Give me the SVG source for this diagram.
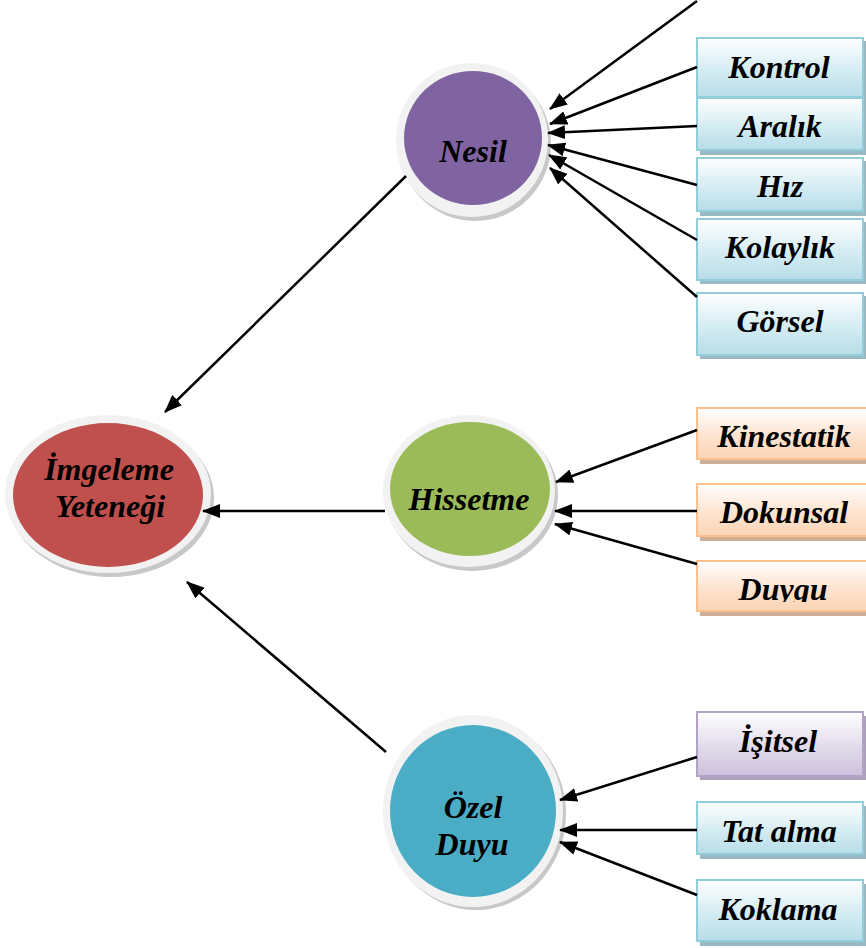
<svg xmlns="http://www.w3.org/2000/svg" width="866" height="948" viewBox="0 0 866 948">
<defs>
<linearGradient id="gBlue" x1="0" y1="0" x2="0" y2="1"><stop offset="0" stop-color="#ffffff"/><stop offset="0.55" stop-color="#d4ecf3"/><stop offset="1" stop-color="#b7dde8"/></linearGradient>
<linearGradient id="gOrange" x1="0" y1="0" x2="0" y2="1"><stop offset="0" stop-color="#ffffff"/><stop offset="0.55" stop-color="#fde3cf"/><stop offset="1" stop-color="#fbd4b4"/></linearGradient>
<linearGradient id="gPurple" x1="0" y1="0" x2="0" y2="1"><stop offset="0" stop-color="#ffffff"/><stop offset="0.55" stop-color="#e2dbeb"/><stop offset="1" stop-color="#ccc0da"/></linearGradient>
<marker id="arr" markerUnits="userSpaceOnUse" markerWidth="18" markerHeight="14" refX="17" refY="7" orient="auto"><path d="M0,0 L18,7 L0,14 z" fill="#000"/></marker>
<clipPath id="clipDuygu"><rect x="690" y="550" width="176" height="52"/></clipPath>
</defs>
<style>
.t{font-family:"Liberation Serif","Times New Roman",serif;font-weight:bold;font-style:italic;font-size:32px;fill:#000;text-anchor:middle}
.ring{fill:#f2f2f2}
.rshadow{fill:#9a9a9a;opacity:0.55}
.bshadow{opacity:0.9}
.conn line{stroke:#000;stroke-width:2.5;marker-end:url(#arr)}
.blue{fill:url(#gBlue);stroke:#92cddc;stroke-width:2}
.orange{fill:url(#gOrange);stroke:#fac090;stroke-width:2}
.purple{fill:url(#gPurple);stroke:#b3a2c7;stroke-width:2}
</style>

<g id="imgeleme">
<ellipse class="rshadow" cx="111" cy="498" rx="103" ry="79"/>
<ellipse class="ring" cx="108" cy="494" rx="103" ry="79"/>
<ellipse cx="108" cy="495" rx="95" ry="72" fill="#c0504d"/>
<text class="t" x="109" y="480">İmgeleme</text>
<text class="t" x="110" y="517">Yeteneği</text>
</g>

<g id="nesil">
<ellipse class="rshadow" cx="475" cy="144" rx="76" ry="77"/>
<ellipse class="ring" cx="472" cy="140" rx="76" ry="77"/>
<ellipse cx="473" cy="138" rx="69" ry="67" fill="#8064a2"/>
<text class="t" x="473" y="162">Nesil</text>
</g>

<g id="hissetme">
<ellipse class="rshadow" cx="472" cy="495" rx="86" ry="76"/>
<ellipse class="ring" cx="469" cy="491" rx="86" ry="76"/>
<ellipse cx="470" cy="489" rx="80" ry="67" fill="#9bbb59"/>
<text class="t" x="469" y="510">Hissetme</text>
</g>

<g id="ozel">
<ellipse class="rshadow" cx="476" cy="814" rx="90" ry="96"/>
<ellipse class="ring" cx="473" cy="811" rx="90" ry="96"/>
<ellipse cx="473" cy="811" rx="83" ry="86" fill="#4bacc6"/>
<text class="t" x="473" y="818">Özel</text>
<text class="t" x="472" y="855">Duyu</text>
</g>

<g id="kontrol">
<rect x="700" y="41" width="166" height="60" fill="#8fb3bd" class="bshadow"/>
<rect class="blue" x="697" y="38" width="166" height="59"/>
<text class="t" x="779" y="78">Kontrol</text>
</g>
<g id="aralik">
<rect x="700" y="101" width="166" height="54" fill="#8fb3bd" class="bshadow"/>
<rect class="blue" x="697" y="98" width="166" height="52"/>
<text class="t" x="780" y="137">Aralık</text>
</g>
<g id="hiz">
<rect x="700" y="161" width="166" height="55" fill="#8fb3bd" class="bshadow"/>
<rect class="blue" x="697" y="158" width="166" height="53"/>
<text class="t" x="780" y="197">Hız</text>
</g>
<g id="kolaylik">
<rect x="700" y="222" width="166" height="62" fill="#8fb3bd" class="bshadow"/>
<rect class="blue" x="697" y="219" width="166" height="61"/>
<text class="t" x="780" y="258">Kolaylık</text>
</g>
<g id="gorsel">
<rect x="700" y="296" width="166" height="63" fill="#8fb3bd" class="bshadow"/>
<rect class="blue" x="697" y="293" width="166" height="62"/>
<text class="t" x="780" y="332">Görsel</text>
</g>

<g id="kinestatik">
<rect x="700" y="411" width="166" height="53" fill="#c9a58a" class="bshadow"/>
<rect class="orange" x="697" y="408" width="170" height="51"/>
<text class="t" x="784" y="447">Kinestatik</text>
</g>
<g id="dokunsal">
<rect x="700" y="487" width="166" height="54" fill="#c9a58a" class="bshadow"/>
<rect class="orange" x="697" y="484" width="170" height="52"/>
<text class="t" x="784" y="523">Dokunsal</text>
</g>
<g id="duygu">
<rect x="700" y="564" width="166" height="52" fill="#c9a58a" class="bshadow"/>
<rect class="orange" x="697" y="561" width="170" height="50"/>
<text class="t" x="783" y="600" clip-path="url(#clipDuygu)">Duygu</text>
</g>

<g id="isitsel">
<rect x="700" y="716" width="166" height="64" fill="#a597b4" class="bshadow"/>
<rect class="purple" x="697" y="712" width="166" height="64"/>
<text class="t" x="778" y="752">İşitsel</text>
</g>
<g id="tatalma">
<rect x="700" y="806" width="166" height="53" fill="#8fb3bd" class="bshadow"/>
<rect class="blue" x="697" y="802" width="166" height="52"/>
<text class="t" x="779" y="842">Tat alma</text>
</g>
<g id="koklama">
<rect x="700" y="884" width="166" height="62" fill="#8fb3bd" class="bshadow"/>
<rect class="blue" x="697" y="880" width="166" height="61"/>
<text class="t" x="778" y="920">Koklama</text>
</g>

<g id="connectors" class="conn">
<line x1="697" y1="1" x2="550" y2="109"/>
<line x1="697" y1="67" x2="550" y2="124"/>
<line x1="697" y1="126" x2="548" y2="133"/>
<line x1="697" y1="185" x2="548" y2="145"/>
<line x1="697" y1="240" x2="549" y2="155"/>
<line x1="697" y1="297" x2="550" y2="168"/>
<line x1="406" y1="176" x2="165" y2="412"/>
<line x1="697" y1="430" x2="556" y2="482"/>
<line x1="697" y1="511" x2="555" y2="511"/>
<line x1="697" y1="564" x2="555" y2="524"/>
<line x1="385" y1="511" x2="203" y2="511"/>
<line x1="697" y1="757" x2="560" y2="800"/>
<line x1="697" y1="830" x2="560" y2="830"/>
<line x1="697" y1="895" x2="560" y2="842"/>
<line x1="386" y1="752" x2="187" y2="582"/>
</g>
</svg>
